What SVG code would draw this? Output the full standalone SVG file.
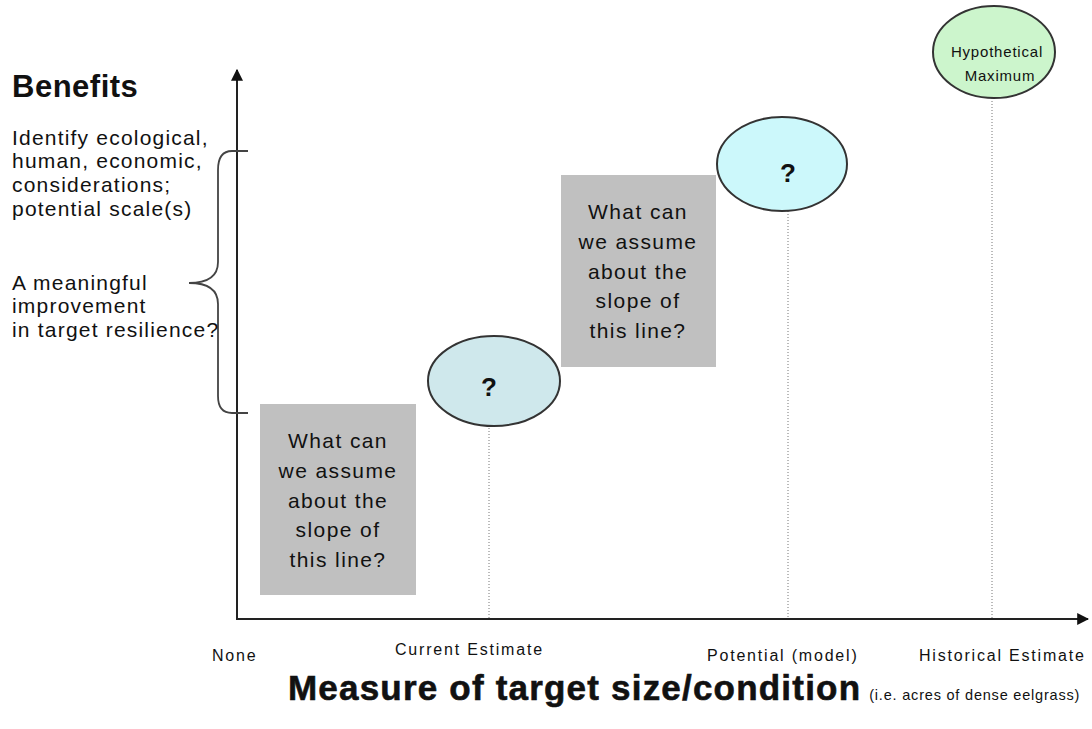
<svg xmlns="http://www.w3.org/2000/svg" width="1092" height="729" viewBox="0 0 1092 729">
<style>
  text { font-family: "Liberation Sans", Arial, sans-serif; fill: #111; }
  .side { font-size: 21px; letter-spacing: 1.2px; }
  .box { fill: #c0c0c0; }
  .boxtxt { font-size: 21px; letter-spacing: 1.4px; text-anchor: middle; }
  .ell { stroke: #333; stroke-width: 2; }
  .q { font-size: 26px; font-weight: bold; text-anchor: middle; }
  .tick { font-size: 16px; letter-spacing: 1.8px; }
  .dot { stroke: #777; stroke-width: 1; stroke-dasharray: 1 2; fill: none; }
  .axis { stroke: #222; stroke-width: 2; fill: none; }
</style>
<defs>
  <marker id="arr" viewBox="0 0 10 10" refX="9" refY="5" markerWidth="6" markerHeight="6" orient="auto" markerUnits="strokeWidth">
    <path d="M0,0 L10,5 L0,10 z" fill="#111"/>
  </marker>
</defs>
<rect width="1092" height="729" fill="#fff"/>

<g id="connectors">
  <line class="dot" x1="489" y1="398" x2="489" y2="618"/>
  <line class="dot" x1="788" y1="184" x2="788" y2="618"/>
  <line class="dot" x1="992" y1="98" x2="992" y2="618"/>
  <path class="axis" d="M237,619 L237,70" marker-end="url(#arr)"/>
  <path class="axis" d="M236,619 L1088,619" marker-end="url(#arr)"/>
  <path id="brace" d="M248,151 L232,151 Q218,151 218,170 L218,262 Q218,283 189,283 Q218,283 218,304 L218,396 Q218,413 232,413 L248,413" fill="none" stroke="#444" stroke-width="1.8"/>
</g>

<g id="benefits">
  <text x="12" y="97" font-size="31" font-weight="bold" letter-spacing="0.5">Benefits</text>
  <text class="side" x="12" y="145">Identify ecological,</text>
  <text class="side" x="12" y="168">human, economic,</text>
  <text class="side" x="12" y="192">considerations;</text>
  <text class="side" x="12" y="216">potential scale(s)</text>
  <text class="side" x="12" y="290">A meaningful</text>
  <text class="side" x="12" y="313">improvement</text>
  <text class="side" x="12" y="337">in target resilience?</text>
</g>

<g id="box1">
  <rect class="box" x="260" y="404" width="156" height="191"/>
  <text class="boxtxt" x="338" y="448">What can</text>
  <text class="boxtxt" x="338" y="478">we assume</text>
  <text class="boxtxt" x="338" y="508">about the</text>
  <text class="boxtxt" x="338" y="537">slope of</text>
  <text class="boxtxt" x="338" y="567">this line?</text>
</g>

<g id="box2">
  <rect class="box" x="561" y="175" width="155" height="192"/>
  <text class="boxtxt" x="638" y="219">What can</text>
  <text class="boxtxt" x="638" y="249">we assume</text>
  <text class="boxtxt" x="638" y="279">about the</text>
  <text class="boxtxt" x="638" y="308">slope of</text>
  <text class="boxtxt" x="638" y="338">this line?</text>
</g>

<g id="current">
  <ellipse class="ell" cx="494" cy="381" rx="66" ry="45" fill="#cfe8ec"/>
  <text class="q" x="489" y="396">?</text>
</g>

<g id="potential">
  <ellipse class="ell" cx="782" cy="164" rx="65" ry="47" fill="#ccf8fb"/>
  <text class="q" x="788" y="182">?</text>
</g>

<g id="hypothetical">
  <ellipse class="ell" cx="994" cy="52" rx="61" ry="46" fill="#ccf5cc"/>
  <text x="997" y="57" font-size="15" letter-spacing="0.8" text-anchor="middle">Hypothetical</text>
  <text x="1000" y="81" font-size="15" letter-spacing="0.8" text-anchor="middle">Maximum</text>
</g>

<g id="xlabels">
  <text class="tick" x="212" y="661">None</text>
  <text class="tick" x="395" y="655">Current Estimate</text>
  <text class="tick" x="707" y="661">Potential (model)</text>
  <text class="tick" x="919" y="661">Historical Estimate</text>
</g>

<g id="xtitle">
  <text x="288" y="700" font-size="35" font-weight="bold" letter-spacing="1.2" stroke="#111" stroke-width="0.6">Measure of target size/condition<tspan font-size="14.5" font-weight="normal" stroke="none" letter-spacing="0.8" dx="8">(i.e. acres of dense eelgrass)</tspan></text>
</g>
</svg>
